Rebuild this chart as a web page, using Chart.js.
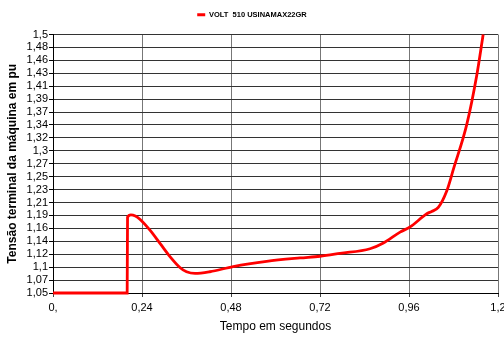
<!DOCTYPE html>
<html>
<head>
<meta charset="utf-8">
<script src="https://cdn.jsdelivr.net/npm/chart.js@4/dist/chart.umd.min.js"></script>
<style>
  html, body { margin: 0; padding: 0; background: #fff; }
  #wrap { width: 504px; height: 338px; }
</style>
</head>
<body>
<div id="wrap"><canvas id="c" width="504" height="338"></canvas></div>
<script>
// Terminal voltage of the machine (pu) over time (s)
const seriesName = 'VOLT  510 USINAMAX22GR';
const timeS = [0, 0.2, 0.201, 0.21, 0.222, 0.235, 0.262, 0.289, 0.316, 0.343, 0.36, 0.383,
  0.423, 0.486, 0.576, 0.666, 0.72, 0.774, 0.855, 0.891, 0.936, 0.963, 1.008, 1.021,
  1.039, 1.062, 1.08, 1.116, 1.143, 1.16];
const voltagePu = [1.05, 1.05, 1.182, 1.186, 1.184, 1.178, 1.159, 1.136, 1.113, 1.094, 1.087, 1.084,
  1.087, 1.096, 1.105, 1.111, 1.114, 1.119, 1.127, 1.137, 1.156, 1.165, 1.188, 1.192,
  1.199, 1.228, 1.266, 1.344, 1.430, 1.5];

// Axis ticks
const xTickValues = [0, 0.24, 0.48, 0.72, 0.96, 1.2];
const xTickLabels = ['0,', '0,24', '0,48', '0,72', '0,96', '1,2'];
const yTickLabels = ['1,05', '1,07', '1,1', '1,12', '1,14', '1,16', '1,19', '1,21', '1,23', '1,25',
  '1,27', '1,3', '1,32', '1,34', '1,37', '1,39', '1,41', '1,43', '1,46', '1,48', '1,5'];
const yMin = 1.05, yMax = 1.5;

const points = timeS.map((t, i) => ({ x: t, y: voltagePu[i] }));
const yTickValues = yTickLabels.map((_, i) => yMin + i * (yMax - yMin) / (yTickLabels.length - 1));

const FONT = "Arial, 'Liberation Sans', sans-serif";

// Leaves extra room under the legend before the plot starts
const legendGap = {
  id: 'legendGap',
  beforeLayout(chart) {
    const lg = chart.legend;
    if (lg && !lg._gapPatched) {
      const fit = lg.fit.bind(lg);
      lg.fit = function () { fit(); this.height += 6; };
      lg._gapPatched = true;
    }
  }
};

new Chart(document.getElementById('c'), {
  type: 'line',
  data: {
    datasets: [{
      label: seriesName,
      data: points,
      borderColor: '#ff0000',
      backgroundColor: '#ff0000',
      borderWidth: 2.8,
      pointRadius: 0,
      cubicInterpolationMode: 'monotone',
      fill: false,
      clip: 4
    }]
  },
  options: {
    responsive: false,
    animation: false,
    devicePixelRatio: 1,
    layout: { padding: { left: 0, right: 0, top: 0, bottom: 0 } },
    plugins: {
      tooltip: { enabled: false },
      legend: {
        display: true,
        position: 'top',
        labels: {
          boxWidth: 8,
          boxHeight: 3,
          padding: 11,
          color: '#000',
          font: { family: FONT, size: 7.5, weight: 'bold' },
          generateLabels: (chart) => chart.data.datasets.map((ds, i) => ({
            text: ds.label,
            fillStyle: '#ff0000',
            strokeStyle: '#ff0000',
            lineWidth: 0,
            datasetIndex: i,
            hidden: false
          }))
        }
      }
    },
    scales: {
      x: {
        type: 'linear',
        min: 0,
        max: 1.2,
        afterBuildTicks: (s) => { s.ticks = xTickValues.map(v => ({ value: v })); },
        afterFit: (s) => { s.height = 45; s.paddingRight = 6; s.paddingLeft = 0; },
        ticks: {
          color: '#000',
          font: { family: FONT, size: 11 },
          padding: 4,
          maxRotation: 0,
          autoSkip: false,
          callback: (v, i) => xTickLabels[i]
        },
        grid: {
          color: '#777',
          lineWidth: 1,
          borderDash: [10, 3],
          tickLength: 4,
          tickColor: '#444',
          tickBorderDash: []
        },
        border: { display: true, color: '#000', width: 1 },
        title: {
          display: true,
          text: 'Tempo em segundos',
          color: '#000',
          font: { family: FONT, size: 12 },
          padding: { top: 2, bottom: 4 }
        }
      },
      y: {
        type: 'linear',
        min: yMin,
        max: yMax,
        afterBuildTicks: (s) => { s.ticks = yTickValues.map(v => ({ value: v })); },
        afterFit: (s) => { s.width = 53; },
        ticks: {
          color: '#000',
          font: { family: FONT, size: 11 },
          padding: 1,
          autoSkip: false,
          callback: (v, i) => yTickLabels[i]
        },
        grid: {
          color: '#333',
          lineWidth: 1,
          borderDash: [2, 2],
          tickLength: 4,
          tickColor: '#000',
          tickBorderDash: []
        },
        border: { display: true, color: '#000', width: 1 },
        title: {
          display: true,
          text: 'Tensão terminal da máquina em pu',
          color: '#000',
          font: { family: FONT, size: 12, weight: 'bold' },
          padding: { top: 5, bottom: 0 }
        }
      }
    }
  },
  plugins: [legendGap]
});
</script>
</body>
</html>
